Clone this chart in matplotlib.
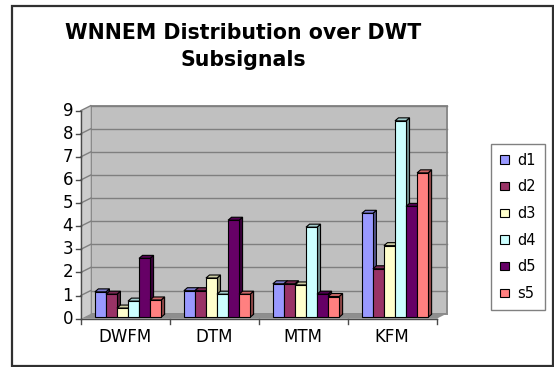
import matplotlib
matplotlib.use("Agg")
import matplotlib.pyplot as plt
import numpy as np
from matplotlib.patches import Polygon, Rectangle, Patch
from matplotlib.transforms import ScaledTranslation
from matplotlib.colors import to_rgb

# ---- data -------------------------------------------------------------
categories = ["DWFM", "DTM", "MTM", "KFM"]
series_names = ["d1", "d2", "d3", "d4", "d5", "s5"]
d1 = [1.1, 1.15, 1.45, 4.5]
d2 = [1.0, 1.15, 1.45, 2.1]
d3 = [0.4, 1.7, 1.4, 3.1]
d4 = [0.7, 1.0, 3.9, 8.5]
d5 = [2.55, 4.2, 1.0, 4.8]
s5 = [0.75, 1.0, 0.9, 6.25]
series_values = [d1, d2, d3, d4, d5, s5]
series_colors = ["#9999FF", "#993366", "#FFFFCC", "#CCFFFF", "#660066", "#FF8080"]
y_ticks = list(range(0, 10))
title = "WNNEM Distribution over DWT\nSubsignals"

# ---- figure -------------------------------------------------------------
W, H = 554, 367
DPI = 100
fig = plt.figure(figsize=(W / DPI, H / DPI), dpi=DPI)
fig.patch.set_facecolor("white")

# outer chart border
fig.add_artist(Rectangle((12 / W, 1 - 366 / H), 541 / W, 360 / H,
                         transform=fig.transFigure, fill=False,
                         edgecolor="#303030", linewidth=1.6))

# axes spanning the front plane of the 3-D box
ax_l, ax_r, ax_t, ax_b = 80.7, 436.7, 110.7, 318.7
ax = fig.add_axes([ax_l / W, 1 - ax_b / H, (ax_r - ax_l) / W, (ax_b - ax_t) / H])
n_cat = len(categories)
xmin, xmax = -0.5, n_cat - 0.5
ymin, ymax = 0, 9
ax.set_xlim(xmin, xmax)
ax.set_ylim(ymin, ymax)
ax.axis("off")

# pixel -> data conversion
p0 = ax.transData.transform((0, 0))
p1 = ax.transData.transform((1, 1))
sx, sy = p1[0] - p0[0], p1[1] - p0[1]

# depth of the box (walls) and of the bars, in pixels
wall_dx, wall_dy = 10 / sx, 5 / sy
bar_dx, bar_dy = 3.5 / sx, 3.0 / sy

wall_col = "#c0c0c0"
side_col = "#cdcdcd"
floor_col = "#8e8e8e"
grid_col = "#7f7f7f"

# back wall
ax.add_patch(Polygon([(xmin + wall_dx, ymin + wall_dy), (xmax + wall_dx, ymin + wall_dy),
                      (xmax + wall_dx, ymax + wall_dy), (xmin + wall_dx, ymax + wall_dy)],
                     closed=True, facecolor=wall_col, edgecolor="#8a8a8a",
                     linewidth=1.4, clip_on=False, zorder=1))
# left side wall
ax.add_patch(Polygon([(xmin, ymin), (xmin, ymax), (xmin + wall_dx, ymax + wall_dy),
                      (xmin + wall_dx, ymin + wall_dy)],
                     closed=True, facecolor=side_col, edgecolor="none",
                     clip_on=False, zorder=1))
# floor
ax.add_patch(Polygon([(xmin, ymin), (xmax, ymin), (xmax + wall_dx, ymin + wall_dy),
                      (xmin + wall_dx, ymin + wall_dy)],
                     closed=True, facecolor=floor_col, edgecolor="none",
                     clip_on=False, zorder=1))

# gridlines on the back wall and side wall
for v in y_ticks[1:]:
    ax.plot([xmin + wall_dx, xmax + wall_dx], [v + wall_dy, v + wall_dy],
            color=grid_col, linewidth=1.0, clip_on=False, zorder=2)
    ax.plot([xmin, xmin + wall_dx], [v, v + wall_dy],
            color=grid_col, linewidth=1.0, clip_on=False, zorder=2)

# axis lines and ticks
axis_col = "#4a4a4a"
ax.plot([xmin, xmin], [ymin, ymax], color=axis_col, linewidth=1.0, clip_on=False, zorder=3)
ax.plot([xmin, xmax], [ymin, ymin], color=axis_col, linewidth=1.0, clip_on=False, zorder=3)
tick_x = 5 / sx
tick_y = 5 / sy
for v in y_ticks:
    ax.plot([xmin - tick_x, xmin], [v, v], color=axis_col, linewidth=1.0, clip_on=False, zorder=3)
    ax.text(xmin - tick_x - 2.5 / sx, v, str(v), ha="right", va="center",
            fontsize=12, family="DejaVu Sans", color="black")
for b in np.arange(xmin, xmax + 0.01, 1.0):
    ax.plot([b, b], [ymin, ymin - tick_y], color=axis_col, linewidth=1.0, clip_on=False, zorder=3)
for i, c in enumerate(categories):
    ax.text(i, ymin - 18 / sy, c, ha="center", va="center",
            fontsize=12, family="DejaVu Sans", color="black")


def shade(color, f):
    r, g, b = to_rgb(color)
    return (r * f, g * f, b * f)


# 3-D bars, sitting slightly behind the front edge of the floor
n_ser = len(series_names)
bar_w = 0.124
x = np.arange(n_cat)
bar_offset = ScaledTranslation(2.8 / DPI, 1.4 / DPI, fig.dpi_scale_trans)
for s, (name, vals, col) in enumerate(zip(series_names, series_values, series_colors)):
    lefts = x - n_ser * bar_w / 2 + s * bar_w
    ax.bar(lefts, vals, width=bar_w, align="edge", color=col,
           edgecolor="black", linewidth=0.8, label=name, zorder=5 + s,
           transform=ax.transData + bar_offset, clip_on=False)
    for l, v in zip(lefts, vals):
        r = l + bar_w
        top = [(l, v), (r, v), (r + bar_dx, v + bar_dy), (l + bar_dx, v + bar_dy)]
        side = [(r, 0), (r, v), (r + bar_dx, v + bar_dy), (r + bar_dx, bar_dy)]
        ax.add_patch(Polygon(side, closed=True, facecolor=shade(col, 0.55),
                             edgecolor="black", linewidth=0.8, clip_on=False,
                             transform=ax.transData + bar_offset, zorder=4.9 + s))
        ax.add_patch(Polygon(top, closed=True, facecolor=shade(col, 0.8),
                             edgecolor="black", linewidth=0.8, clip_on=False,
                             transform=ax.transData + bar_offset, zorder=4.9 + s))

# title
fig.text(243 / W, 1 - 46.5 / H, title, ha="center", va="center", fontsize=14.8,
         fontweight="bold", family="DejaVu Sans", linespacing=1.4)

# legend with square swatches
handles = [Patch(facecolor=c, edgecolor="black", linewidth=0.8) for c in series_colors]
leg = fig.legend(handles=handles, labels=series_names, loc="upper left",
                 bbox_to_anchor=(491 / W, 1 - 144 / H), frameon=True,
                 fancybox=False, edgecolor="#808080", framealpha=1,
                 prop={"family": "DejaVu Sans", "size": 10.5},
                 handlelength=0.65, handleheight=0.5, handletextpad=0.55,
                 labelspacing=0.8, borderpad=0.6, borderaxespad=0)
leg.get_frame().set_linewidth(1.0)

fig.savefig("out.png", dpi=DPI, facecolor="white")
